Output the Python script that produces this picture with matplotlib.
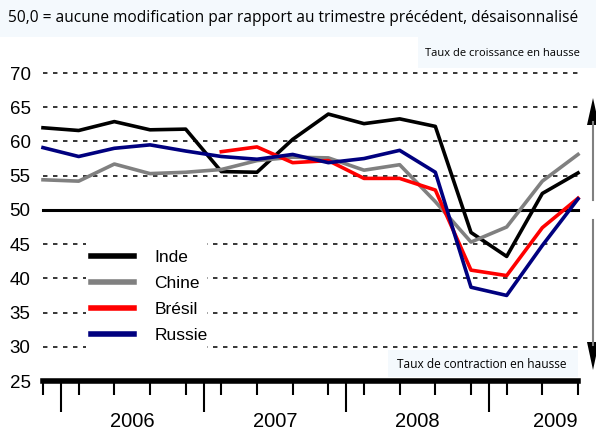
import numpy as np
import matplotlib
matplotlib.use("Agg")
import matplotlib.pyplot as plt
from matplotlib.lines import Line2D
from matplotlib.patches import Polygon, Rectangle

plt.rcParams['lines.scale_dashes'] = False

# data (quarterly, Q4 2005 .. Q3 2009)
inde = [62.0, 61.6, 62.9, 61.7, 61.8, 55.6, 55.5, 60.3, 64.0, 62.6, 63.3, 62.2, 46.7, 43.2, 52.4, 55.4]
chine = [54.4, 54.2, 56.7, 55.3, 55.5, 55.9, 57.2, 57.7, 57.6, 55.8, 56.6, 51.2, 45.3, 47.5, 54.2, 58.1]
bresil = [None, None, None, None, None, 58.5, 59.2, 56.9, 57.2, 54.6, 54.6, 52.9, 41.2, 40.4, 47.4, 51.7]
russie = [59.1, 57.8, 59.0, 59.5, 58.6, 57.8, 57.4, 58.1, 56.9, 57.5, 58.7, 55.5, 38.7, 37.5, 44.8, 51.6]
years = ['2006', '2007', '2008', '2009']
yticks = [25, 30, 35, 40, 45, 50, 55, 60, 65, 70]

W, H = 596, 432
fig = plt.figure(figsize=(W / 100, H / 100), dpi=100)
fig.patch.set_facecolor('white')

# light header band
fig.add_artist(Rectangle((0, (H - 37) / H), 1, 37 / H, transform=fig.transFigure,
                         facecolor='#f4f9fd', edgecolor='none', zorder=0))
fig.add_artist(Rectangle((418 / W, (H - 68) / H), (W - 418) / W, 31 / H, transform=fig.transFigure,
                         facecolor='#f4f9fd', edgecolor='none', zorder=0))

ax = fig.add_axes([43 / W, 51 / H, 535 / W, 308 / H])
ax.set_facecolor('none')
x = np.arange(len(inde))
ax.set_xlim(0, 15)
ax.set_ylim(25, 70)

for s in ax.spines.values():
    s.set_visible(False)

for v in yticks[1:]:
    if v == 50:
        ax.axhline(v, color='black', lw=2.2, zorder=1, clip_on=False)
    else:
        ax.axhline(v, color='black', lw=1.1, linestyle=(0, (3.2, 4.0)), zorder=1, clip_on=False)
ax.axhline(25, color='black', lw=4, zorder=3, clip_on=False)

# white block behind the legend (breaks the grid lines)
ax.add_patch(Rectangle((86 / W, (H - 352) / H), 121 / W, 124 / H, transform=fig.transFigure,
                       facecolor='white', edgecolor='none', zorder=2))

num = lambda s: np.array([np.nan if v is None else v for v in s], dtype=float)
ax.plot(x, num(inde), color='black', lw=2.6, label='Inde', zorder=4, clip_on=False)
ax.plot(x, num(chine), color='#808080', lw=2.6, label='Chine', zorder=4, clip_on=False)
ax.plot(x, num(bresil), color='#ff0000', lw=2.6, label='Brésil', zorder=4, clip_on=False)
ax.plot(x, num(russie), color='#00007f', lw=2.6, label='Russie', zorder=4, clip_on=False)

fam = ['Liberation Sans', 'DejaVu Sans']

ax.set_yticks(yticks)
ax.set_yticklabels([str(v) for v in yticks], fontsize=13.5, family=fam)
ax.tick_params(axis='y', length=0, pad=9)

ax.set_xticks([0.5, 4.5, 8.5, 12.5])
ax.set_xticklabels([])
ax.set_xticks(x, minor=True)
ax.tick_params(axis='x', which='major', direction='out', length=22, width=1.5, color='black')
ax.tick_params(axis='x', which='minor', direction='out', length=10, width=1.5, color='black')

for lab, xp, ha in zip(years, [2.5, 6.5, 10.5, 15], ['center', 'center', 'center', 'right']):
    ax.text(xp, -0.13, lab, transform=ax.get_xaxis_transform(), ha=ha, va='center',
            fontsize=14.5, family=fam)

leg = ax.legend(loc='upper left', bbox_to_anchor=(91 / W, (H - 250) / H),
                bbox_transform=fig.transFigure, frameon=False,
                handlelength=2.5, handletextpad=1.15, labelspacing=0.63,
                borderpad=0, borderaxespad=0, prop={'family': fam, 'size': 12.5})
for h in leg.get_lines():
    h.set_linewidth(4)
leg.set_zorder(5)

tf = ['Open Sans', 'DejaVu Sans']
fig.text(8 / W, (H - 18) / H, '50,0 = aucune modification par rapport au trimestre précédent, désaisonnalisé',
         fontsize=11.2, family=tf, va='center', ha='left')
fig.text(580 / W, (H - 53) / H, 'Taux de croissance en hausse', fontsize=8.0, family=tf,
         va='center', ha='right')
fig.add_artist(Rectangle((388 / W, (H - 377) / H), 190 / W, 27 / H, transform=fig.transFigure,
                         facecolor='#f4f9fd', edgecolor='none', zorder=5))
fig.text(397 / W, (H - 364) / H, 'Taux de contraction en hausse', fontsize=8.6, family=tf,
         va='center', ha='left', zorder=6)

# growth / contraction arrows at the right edge
xa = 593
fig.add_artist(Line2D([xa, xa], [H - 200, H - 122], color='#808080', lw=1.5, transform=None))
fig.add_artist(Polygon([[xa - 6, H - 125], [xa + 6, H - 125], [xa, H - 98]], closed=True,
                       facecolor='black', edgecolor='none', transform=None))
fig.add_artist(Line2D([xa, xa], [H - 220, H - 345], color='#808080', lw=1.5, transform=None))
fig.add_artist(Polygon([[xa - 6, H - 342], [xa + 6, H - 342], [xa, H - 370]], closed=True,
                       facecolor='black', edgecolor='none', transform=None))

fig.savefig('out.png', dpi=100)
